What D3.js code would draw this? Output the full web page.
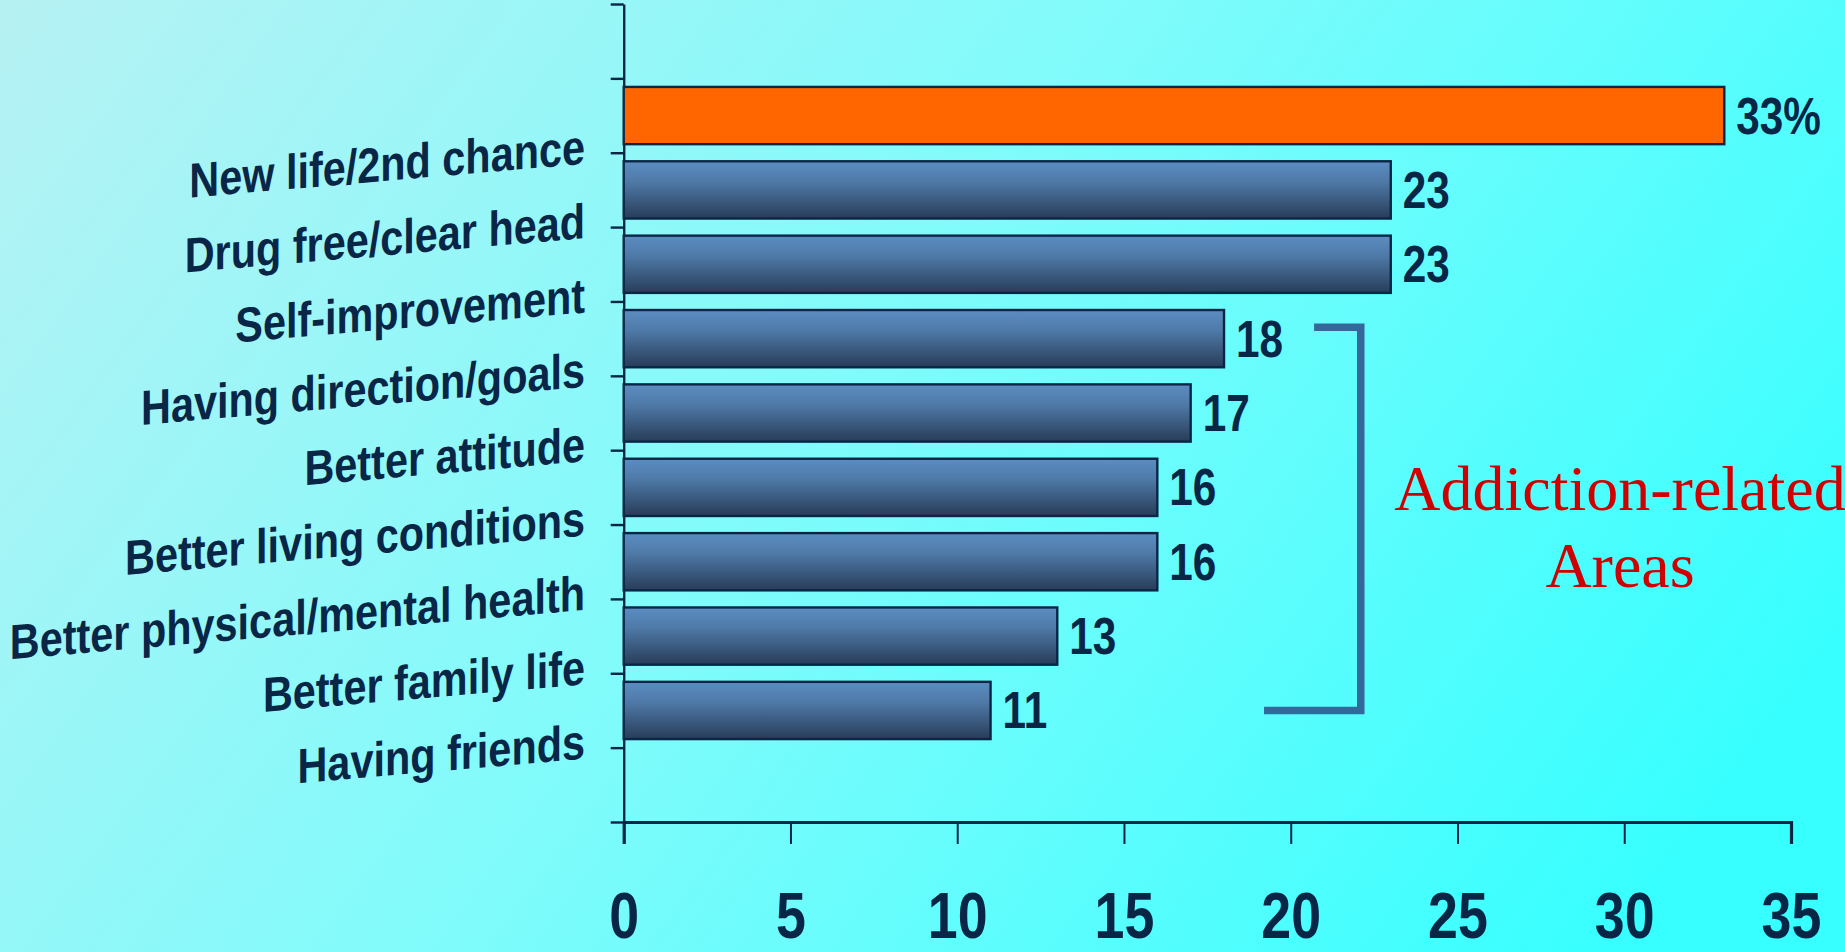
<!DOCTYPE html>
<html>
<head>
<meta charset="utf-8">
<script src="https://cdn.jsdelivr.net/npm/d3@7"></script>
<style>
  html, body { margin: 0; padding: 0; overflow: hidden; background: #8ff8f8; }
  svg { display: block; }
</style>
</head>
<body>
<svg id="chart" width="1845" height="952"></svg>
<script>
// Reasons given for what recovery brought them (percent of respondents)
const categories = [
  "New life/2nd chance",
  "Drug free/clear head",
  "Self-improvement",
  "Having direction/goals",
  "Better attitude",
  "Better living conditions",
  "Better physical/mental health",
  "Better family life",
  "Having friends"
];
const values = [33, 23, 23, 18, 17, 16, 16, 13, 11];
const xTicks = [0, 5, 10, 15, 20, 25, 30, 35];
const bracketNote = ["Addiction-related", "Areas"];

const W = 1845, H = 952;
const svg = d3.select("#chart");
const defs = svg.append("defs");

// page background: soft diagonal cyan wash
const bg = defs.append("linearGradient")
  .attr("id", "bg").attr("gradientUnits", "userSpaceOnUse")
  .attr("x1", 0).attr("y1", 0).attr("x2", 1500).attr("y2", 1100);
bg.append("stop").attr("offset", 0).attr("stop-color", "#b6f1f3");
bg.append("stop").attr("offset", 0.5).attr("stop-color", "#7ffbfb");
bg.append("stop").attr("offset", 1).attr("stop-color", "#38ffff");
svg.append("rect").attr("width", W).attr("height", H).attr("fill", "url(#bg)");

// bar shading: lighter steel blue on top fading to dark navy
const barGrad = defs.append("linearGradient")
  .attr("id", "barGrad").attr("x1", 0).attr("y1", 0).attr("x2", 0).attr("y2", 1);
barGrad.append("stop").attr("offset", 0).attr("stop-color", "#5b8dc2");
barGrad.append("stop").attr("offset", 0.35).attr("stop-color", "#4f7aa8");
barGrad.append("stop").attr("offset", 1).attr("stop-color", "#283c58");

const ink = "#0a2647";

// scales
const x = d3.scaleLinear().domain([0, 35]).range([623.7, 1791]);
const nSlots = categories.length + 2;           // an empty slot above and below the bars
const yEdge = d3.scaleLinear().domain([0, nSlots]).range([4, 822]);
const y = d3.scaleBand().domain(categories)
  .range([yEdge(1), yEdge(nSlots - 1)])
  .paddingInner(0.23).paddingOuter(0.115);

// value axis
const xAxis = svg.append("g")
  .attr("transform", `translate(0,${yEdge(nSlots)})`)
  .call(d3.axisBottom(x).tickValues(xTicks).tickSize(22).tickSizeOuter(22).tickFormat(d3.format("d")));
xAxis.select(".domain").attr("stroke", ink).attr("stroke-width", 3.2);
xAxis.selectAll(".tick line").attr("stroke", ink).attr("stroke-width", 2);
xAxis.selectAll(".tick text")
  .attr("fill", ink)
  .attr("font-family", "'Liberation Sans', Arial, sans-serif")
  .attr("font-weight", "bold")
  .attr("font-size", 64)
  .attr("y", 116).attr("dy", 0)
  .attr("transform", "scale(0.84,1)");

// category axis: ticks on slot boundaries
const yAxis = svg.append("g")
  .attr("transform", `translate(${x(0)},0)`)
  .call(d3.axisLeft(yEdge).tickValues(d3.range(nSlots + 1)).tickSize(13).tickSizeOuter(0).tickFormat(""));
yAxis.select(".domain").attr("stroke", ink).attr("stroke-width", 2.4);
yAxis.selectAll(".tick line").attr("stroke", ink).attr("stroke-width", 2.4);

// bars
svg.append("g").selectAll("rect")
  .data(values)
  .join("rect")
  .attr("x", x(0))
  .attr("y", (d, i) => y(categories[i]))
  .attr("width", d => x(d) - x(0))
  .attr("height", y.bandwidth())
  .attr("fill", (d, i) => i === 0 ? "#ff6600" : "url(#barGrad)")
  .attr("stroke", ink)
  .attr("stroke-width", 2.4);

// value labels
svg.append("g").selectAll("text")
  .data(values)
  .join("text")
  .attr("transform", (d, i) => `translate(${x(d) + 12},${y(categories[i]) + y.bandwidth() / 2 + 18}) scale(0.83,1)`)
  .attr("fill", ink)
  .attr("font-family", "'Liberation Sans', Arial, sans-serif")
  .attr("font-weight", "bold")
  .attr("font-size", 51)
  .text((d, i) => i === 0 ? d + "%" : d);

// category labels, slanted and set just below each bar
svg.append("g").selectAll("text")
  .data(categories)
  .join("text")
  .attr("transform", (d, i) => `translate(585,${yEdge(i + 2) + 11}) skewY(-4.9) scale(0.845,1)`)
  .attr("text-anchor", "end")
  .attr("fill", ink)
  .attr("font-family", "'Liberation Sans', Arial, sans-serif")
  .attr("font-weight", "bold")
  .attr("font-size", 49)
  .text(d => d);

// bracket grouping the addiction-related items
const first = categories[3], last = categories[categories.length - 1];
const bTop = y(first) + y.bandwidth() * 0.3;
const bBot = y(last) + y.bandwidth() / 2;
svg.append("path")
  .attr("d", d3.line()([[x(20.7), bTop], [x(22.1), bTop], [x(22.1), bBot], [x(19.2), bBot]]))
  .attr("fill", "none")
  .attr("stroke", "#34679a")
  .attr("stroke-width", 7.5);

svg.append("g").selectAll("text")
  .data(bracketNote)
  .join("text")
  .attr("x", 1620)
  .attr("y", (d, i) => 510 + i * 77)
  .attr("text-anchor", "middle")
  .attr("fill", "#d10000")
  .attr("font-family", "'Liberation Serif', 'Times New Roman', serif")
  .attr("font-size", 64)
  .text(d => d);
</script>
</body>
</html>
